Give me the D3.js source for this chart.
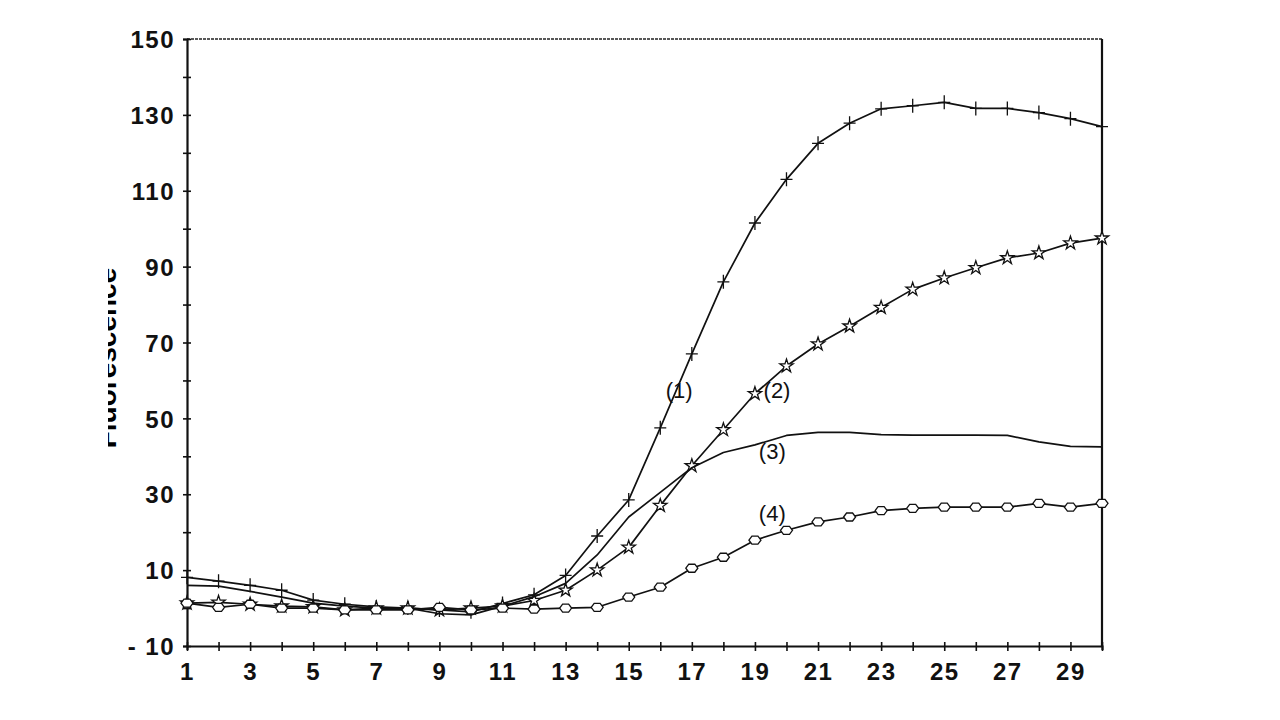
<!DOCTYPE html>
<html>
<head>
<meta charset="utf-8">
<script src="https://cdn.jsdelivr.net/npm/d3@7"></script>
<style>
  body{margin:0;background:#fff;}
  .tick text{font-family:"Liberation Sans",Arial,sans-serif;font-weight:bold;font-size:24px;letter-spacing:1.5px;fill:#111;}
  .lbl{font-family:"Liberation Sans",Arial,sans-serif;font-size:22px;fill:#111;}
</style>
</head>
<body>
<svg id="chart" width="1280" height="720"></svg>
<script>
// cycle numbers on the x axis
var cycles=[1,2,3,4,5,6,7,8,9,10,11,12,13,14,15,16,17,18,19,20,21,22,23,24,25,26,27,28,29,30];
// fluorescence, one array per curve
var curve1=[8.1,7.1,6.0,4.7,2.1,1.0,0.3,0,-0.5,-1,1.2,3.5,8.6,19,28.5,47.5,67,86,101.5,113,122.5,127.8,131.6,132.4,133.3,131.7,131.7,130.6,129,126.9];
var curve2=[1.3,1.5,1.0,0.5,0.3,-0.5,0,0,-0.5,0,0.5,2,4.7,10,16,27,37.5,47,56.5,63.8,69.6,74.3,79.2,84,87,89.7,92.3,93.6,96.2,97.5];
var curve3=[6.0,5.8,4.4,2.9,1.3,0.5,0,0,-1.5,-1.8,0.5,3,6.5,14,24,30.5,37,41,43,45.5,46.3,46.3,45.7,45.6,45.6,45.6,45.5,43.8,42.6,42.5];
var curve4=[1.3,0.2,1.0,0,0,-0.5,-0.5,-0.5,0.2,-0.5,0,-0.3,0,0.2,2.9,5.5,10.5,13.4,17.9,20.5,22.7,24,25.7,26.3,26.6,26.6,26.6,27.6,26.6,27.6];
// tick values
var yTicks=[-10,0,10,20,30,40,50,60,70,80,90,100,110,120,130,140,150];
var yLabels=[-10,10,30,50,70,90,110,130,150];
var xLabels=[1,3,5,7,9,11,13,15,17,19,21,23,25,27,29];
// curve labels: text, cycle, value
var curveNames=["(1)","(2)","(3)","(4)"];
var nameCycle=[16.6,19.7,19.55,19.55];
var nameValue=[57.3,57.3,41.2,24.9];

var svg=d3.select("#chart");
var x=d3.scaleLinear().domain([1,30]).range([187,1102]);
var y=d3.scaleLinear().domain([-10,150]).range([646,39]);

// frame top and right
svg.append("line").attr("x1",x(1)).attr("x2",x(30)).attr("y1",y(150)).attr("y2",y(150))
    .attr("stroke","#222").attr("stroke-width",1.6).attr("stroke-dasharray","3,1");
svg.append("line").attr("x1",x(30)).attr("x2",x(30)).attr("y1",y(150)).attr("y2",y(-10))
    .attr("stroke","#111").attr("stroke-width",2.2);

// y axis
var gy=svg.append("g").attr("transform","translate("+x(1)+",0)")
    .call(d3.axisLeft(y).tickValues(yTicks).tickSize(4).tickPadding(8)
        .tickFormat(function(d){
            if(yLabels.indexOf(d)<0) return "";
            return d<0 ? "- "+Math.abs(d) : d;
        }));
gy.select(".domain").attr("stroke","#111").attr("stroke-width",2.2);
gy.selectAll(".tick line").attr("x1",-4).attr("x2",4).attr("stroke","#111").attr("stroke-width",1.6);
gy.selectAll(".tick text").attr("dy","0.36em");

// x axis
var gx=svg.append("g").attr("transform","translate(0,"+y(-10)+")")
    .call(d3.axisBottom(x).tickValues(cycles).tickSize(4).tickPadding(13)
        .tickFormat(function(d){ return xLabels.indexOf(d)<0 ? "" : d; }));
gx.select(".domain").attr("stroke","#111").attr("stroke-width",2.2);
gx.selectAll(".tick line").attr("y1",-4).attr("y2",5).attr("stroke","#111").attr("stroke-width",1.6);

// y axis title, half hidden like in the scan
svg.append("clipPath").attr("id","cut").append("rect")
    .attr("x",108).attr("y",200).attr("width",60).attr("height",320);
svg.append("g").attr("clip-path","url(#cut)")
    .append("text")
    .attr("transform","translate(116,358) rotate(-90)")
    .attr("text-anchor","middle")
    .attr("font-family","Liberation Sans, Arial, sans-serif")
    .attr("font-size","28px")
    .attr("font-weight","bold")
    .attr("fill","#000")
    .text("Fluorescence");

var line=d3.line().x(function(d,i){return x(cycles[i]);}).y(function(d){return y(d);});

var series=[curve1,curve2,curve3,curve4];
var markers=["cross","star","none","diamond"];

series.forEach(function(s,k){
    svg.append("path").datum(s)
        .attr("d",line)
        .attr("fill","none")
        .attr("stroke","#111")
        .attr("stroke-width",1.7)
        .attr("stroke-linejoin","round");

    if(markers[k]=="none") return;
    var g=svg.append("g");
    g.selectAll("path").data(s).enter().append("path")
        .attr("transform",function(d,i){return "translate("+x(cycles[i])+","+y(d)+")";})
        .attr("d",function(){
            if(markers[k]=="cross") return "M-6,0H6M0,-7V7";
            if(markers[k]=="star") return d3.symbol().type(d3.symbolStar).size(55)();
            return "M-6,0L-3,-4H3L6,0L3,4H-3Z";
        })
        .attr("fill",markers[k]=="cross" ? "none" : "#fff")
        .attr("stroke","#111")
        .attr("stroke-width",1.3);
});

// curve labels
svg.selectAll(".lbl").data(curveNames).enter().append("text")
    .attr("class","lbl")
    .attr("x",function(d,i){return x(nameCycle[i]);})
    .attr("y",function(d,i){return y(nameValue[i]);})
    .attr("dy","0.35em")
    .attr("text-anchor","middle")
    .text(function(d){return d;});
</script>
</body>
</html>
